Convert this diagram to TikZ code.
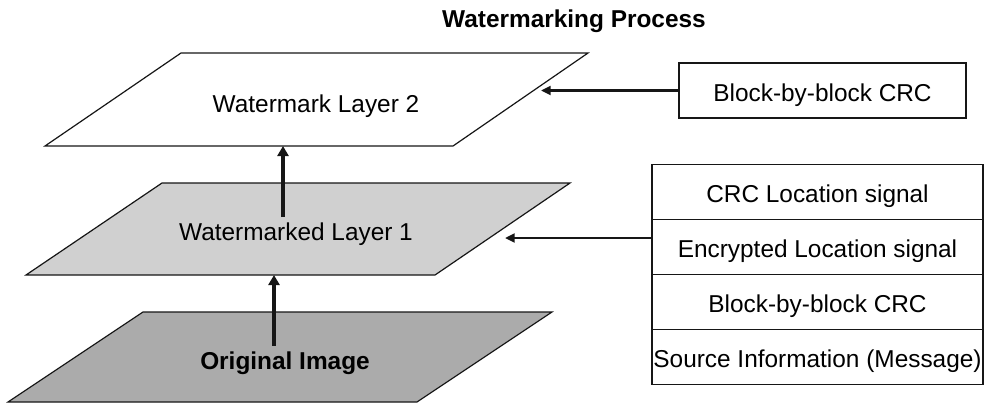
\documentclass[tikz,border=0pt]{standalone}
\usepackage{fontspec}
\setmainfont{Liberation Sans}
\usetikzlibrary{arrows.meta,positioning}
\definecolor{layertop}{RGB}{255,255,255}
\definecolor{layermid}{RGB}{208,208,208}
\definecolor{layerbase}{RGB}{171,171,171}
\definecolor{inkblack}{RGB}{22,22,22}

\begin{document}
\begin{tikzpicture}[
  x=0.5pt, y=-0.5pt,
  font=\fontsize{12.2}{14.6}\selectfont,
  plane/.style={draw=inkblack, line width=0.6pt, line join=miter},
  layertext/.style={inner sep=0.5pt, text height=11pt, text depth=0.5pt},
  liftarrow/.style={-{Triangle[length=5pt,width=5.5pt]}, draw=inkblack, line width=2.2pt},
  feedarrow/.style={-{Triangle[length=4.8pt,width=4.4pt]}, draw=inkblack, line width=1.2pt},
  field/.style={draw=inkblack, line width=0.6pt, minimum height=27.5pt, inner sep=0pt,
    outer sep=0pt, text height=11pt, text depth=0.5pt},
  node distance=0pt
]
\useasboundingbox (0,0) rectangle (984,403);

% Title.
\node[layertext, font=\fontsize{12.2}{14.6}\selectfont\bfseries] (title) at (574,17)
  {Watermarking Process};

% Layers, bottom to top.
\draw[plane, fill=layerbase] (143,312) -- (552,312) -- (417,402) -- (8,402) -- cycle;
\node[layertext, font=\fontsize{12.2}{14.6}\selectfont\bfseries] (orig) at (285,358.5)
  {Original Image};

\draw[plane, fill=layermid] (162,183) -- (570,183) -- (435,275) -- (26,275) -- cycle;
\node[layertext] (wl1) at (296,230) {Watermarked Layer 1};

\draw[plane, fill=layertop] (181,53) -- (588,53) -- (453,146) -- (45,146) -- cycle;
\node[layertext] (wl2) at (316,102) {Watermark Layer 2};

\coordinate (l1base) at (274,275);
\coordinate (l2base) at (283,146);
\coordinate (l1edge) at (505,238);
\coordinate (l2edge) at (541,90.5);

% Embedded payloads.
\node[field, minimum width=143.5pt] (crcbox) at (822.5,90.5) {Block-by-block CRC};

\node[field, minimum width=165.5pt] (crcloc) at (817.5,192) {CRC Location signal};
\node[field, minimum width=165.5pt, below=of crcloc] (encloc) {Encrypted Location signal};
\node[field, minimum width=165.5pt, below=of encloc] (blockcrc) {Block-by-block CRC};
\node[field, minimum width=165.5pt, below=of blockcrc] (source) {Source Information (Message)};

% Flow between layers.
\draw[liftarrow] (orig.north -| l1base) -- (l1base);
\draw[liftarrow] (wl1.north -| l2base) -- (l2base);

% Payloads into layers.
\draw[feedarrow] (crcbox.west) -- (crcbox.west -| l2edge);
\draw[feedarrow] (encloc.west |- l1edge) -- (l1edge);

\end{tikzpicture}
\end{document}
